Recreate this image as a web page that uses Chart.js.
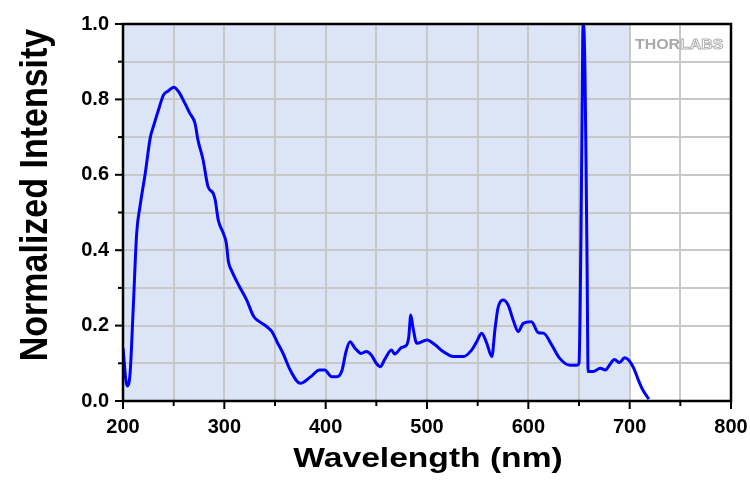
<!DOCTYPE html>
<html>
<head>
<meta charset="utf-8">
<script src="https://cdn.jsdelivr.net/npm/chart.js@4/dist/chart.umd.min.js"></script>
<style>
  html, body { margin: 0; padding: 0; background: #fff; }
  #wrap { width: 750px; height: 480px; }
</style>
</head>
<body>
<div id="wrap"><canvas id="spec"></canvas></div>
<script>
const wavelengths = [200, 204, 207, 210, 213.5, 217, 222, 227, 230, 235, 240, 245, 250, 255, 261, 266, 271, 274, 279, 284,
  289, 291, 294, 299, 302, 304, 307, 315, 322, 329, 335, 342, 347, 352, 358, 365, 375, 385, 394, 399,
  406, 411, 416, 420, 424, 429, 435, 440, 445, 450, 454, 458, 465, 468, 475, 480, 482, 484, 486, 490,
  500, 508, 516, 526, 536, 544, 549, 554, 559, 564, 567, 570, 575, 580, 585, 590, 595, 603, 610, 615,
  623, 631, 641, 648, 650, 651, 652, 653, 654, 655, 656, 657, 658, 659, 664, 671, 676, 680, 685, 690,
  695, 699, 704, 708.5, 713, 719];
const intensity = [0.14, 0.04, 0.074, 0.24, 0.445, 0.52, 0.605, 0.70, 0.728, 0.772, 0.812, 0.823, 0.832, 0.82, 0.79, 0.763, 0.737, 0.692, 0.64, 0.568,
  0.551, 0.533, 0.48, 0.445, 0.418, 0.37, 0.347, 0.303, 0.268, 0.224, 0.21, 0.197, 0.184, 0.157, 0.126, 0.082, 0.047, 0.064, 0.082, 0.082,
  0.064, 0.064, 0.08, 0.13, 0.157, 0.14, 0.126, 0.131, 0.122, 0.1, 0.091, 0.109, 0.135, 0.125, 0.142, 0.149, 0.17, 0.228, 0.197, 0.153,
  0.162, 0.149, 0.131, 0.118, 0.118, 0.135, 0.157, 0.18, 0.153, 0.118, 0.188, 0.246, 0.268, 0.255, 0.215, 0.184, 0.206, 0.21, 0.181, 0.18,
  0.149, 0.113, 0.095, 0.095, 0.10, 0.22, 0.45, 0.75, 1.0, 0.98, 0.85, 0.62, 0.35, 0.078, 0.078, 0.087, 0.082, 0.095, 0.11, 0.102,
  0.115, 0.109, 0.087, 0.056, 0.029, 0.005];
const xRange = [200, 800];
const yRange = [0, 1];
const shadeRange = [200, 700];
const xTitle = "Wavelength (nm)";
const yTitle = "Normalized Intensity";

const FONT = "'Liberation Sans', Arial, sans-serif";

// light blue band behind the grid
const shadePlugin = {
  id: "shade",
  beforeDraw(chart) {
    const { ctx, chartArea, scales } = chart;
    const x0 = scales.x.getPixelForValue(shadeRange[0]);
    const x1 = scales.x.getPixelForValue(shadeRange[1]);
    ctx.save();
    ctx.fillStyle = "#dce5f6";
    ctx.fillRect(x0, chartArea.top, x1 - x0, chartArea.bottom - chartArea.top);
    ctx.restore();
  },
};

// frame, tick marks (long major, short minor), axis titles and logo
const framePlugin = {
  id: "frame",
  afterDraw(chart) {
    const { ctx, chartArea: a, scales } = chart;
    ctx.save();
    ctx.strokeStyle = "#000";
    ctx.lineWidth = 2.5;
    ctx.strokeRect(a.left, a.top, a.right - a.left, a.bottom - a.top);
    ctx.lineWidth = 2;
    scales.x.ticks.forEach((t) => {
      const px = scales.x.getPixelForValue(t.value);
      const len = t.value % 100 === 0 ? 8 : 5;
      ctx.beginPath();
      ctx.moveTo(px, a.bottom);
      ctx.lineTo(px, a.bottom + len);
      ctx.stroke();
    });
    scales.y.ticks.forEach((t) => {
      const py = scales.y.getPixelForValue(t.value);
      const len = Math.round(t.value * 10) % 2 === 0 ? 8 : 5;
      ctx.beginPath();
      ctx.moveTo(a.left, py);
      ctx.lineTo(a.left - len, py);
      ctx.stroke();
    });

    // axis titles (slightly wide, like the source image)
    ctx.fillStyle = "#000";
    ctx.textAlign = "center";
    ctx.textBaseline = "alphabetic";
    ctx.font = "bold 28px " + FONT;
    ctx.save();
    ctx.translate(428, 467);
    ctx.scale(1.2, 1);
    ctx.fillText(xTitle, 0, 0);
    ctx.restore();

    ctx.font = "bold 34px " + FONT;
    ctx.save();
    ctx.translate(47, 195);
    ctx.scale(1.12, 1);
    ctx.rotate(-Math.PI / 2);
    ctx.fillText(yTitle, 0, 0);
    ctx.restore();

    // THORLABS mark
    ctx.textAlign = "left";
    ctx.font = "bold 15px " + FONT;
    ctx.fillStyle = "#a9a9a9";
    ctx.save();
    ctx.translate(a.right - 96, a.top + 25);
    ctx.scale(1.06, 1);
    ctx.fillText("THOR", 0, 0);
    const w = ctx.measureText("THOR").width;
    ctx.strokeStyle = "#b0b0b0";
    ctx.lineWidth = 1;
    ctx.strokeText("LABS", w, 0);
    ctx.restore();
    ctx.restore();
  },
};

new Chart(document.getElementById("spec"), {
  type: "line",
  data: {
    datasets: [
      {
        data: wavelengths.map((w, i) => ({ x: w, y: intensity[i] })),
        borderColor: "#0000ff",
        borderWidth: 3,
        pointRadius: 0,
        cubicInterpolationMode: "monotone",
        fill: false,
      },
    ],
  },
  plugins: [shadePlugin, framePlugin],
  options: {
    responsive: true,
    maintainAspectRatio: false,
    animation: false,
    layout: { padding: { top: 24, right: 19, left: 0, bottom: 0 } },
    plugins: { legend: { display: false }, tooltip: { enabled: false } },
    scales: {
      x: {
        type: "linear",
        min: xRange[0],
        max: xRange[1],
        afterFit: (s) => { s.height = 79; s.paddingLeft = 0; s.paddingRight = 0; },
        ticks: {
          stepSize: 50,
          color: "#000",
          font: { family: FONT, size: 20, weight: "bold" },
          padding: 6,
          maxRotation: 0,
          callback: (v) => (v % 100 === 0 ? String(v) : ""),
        },
        grid: { color: "#c8c8c8", lineWidth: 2, tickLength: 8, tickColor: "transparent" },
        border: { display: false },
      },
      y: {
        min: yRange[0],
        max: yRange[1],
        afterFit: (s) => { s.width = 123; s.paddingTop = 0; s.paddingBottom = 0; },
        ticks: {
          stepSize: 0.1,
          color: "#000",
          font: { family: FONT, size: 20, weight: "bold" },
          padding: 6,
          callback: (v) => (Math.round(v * 10) % 2 === 0 ? v.toFixed(1) : ""),
        },
        grid: { color: "#c8c8c8", lineWidth: 2, tickLength: 8, tickColor: "transparent" },
        border: { display: false },
      },
    },
  },
});
</script>
</body>
</html>
